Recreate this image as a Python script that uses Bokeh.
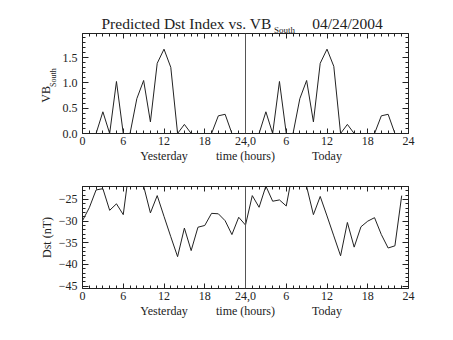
from bokeh.plotting import figure
from bokeh.models import FixedTicker, LinearAxis, Span, Range1d
from bokeh.layouts import column
from bokeh.embed import file_html
from bokeh.resources import INLINE

# ---------------- data ----------------
vb_yesterday = [0, 0, 0, 0.43, 0, 1.03, 0, 0, 0.69, 1.05, 0.23, 1.39,
                1.67, 1.31, 0, 0.18, 0, 0, 0, 0, 0.35, 0.38, 0, 0]
vb_today = [0, 0, 0, 0.43, 0, 1.03, 0, 0, 0.69, 1.05, 0.23, 1.39,
            1.67, 1.33, 0, 0.18, 0, 0, 0, 0, 0.35, 0.38, 0, 0, 0]
dst_yesterday = [-29.9, -26.9, -22.8, -22.5, -27.5, -26.0, -28.5, -16.5,
                 -18.0, -21.9, -28.1, -24.1, -28.9, -33.6, -38.2, -31.6,
                 -36.8, -31.4, -31.0, -28.2, -28.3, -29.9, -33.1, -29.1]
dst_today = [-30.9, -24.1, -26.8, -21.9, -25.4, -25.1, -26.5, -18.2,
             -17.0, -22.0, -28.5, -24.3, -28.8, -33.4, -38.0, -30.3,
             -36.0, -31.3, -30.0, -29.2, -33.1, -36.2, -35.7, -24.1]

x_ticks = [0, 6, 12, 18, 24, 30, 36, 42, 48]
x_tick_labels = ["0", "6", "12", "18", "24,0", "6", "12", "18", "24"]
vb_ticks = [0.0, 0.5, 1.0, 1.5]
vb_tick_labels = ["0.0", "0.5", "1.0", "1.5"]
dst_ticks = [-45, -40, -35, -30, -25]
dst_tick_labels = ["\u221245", "\u221240", "\u221235", "\u221230", "\u221225"]

title_main = "Predicted Dst Index vs. VB"
title_sub = "South"
title_date = "04/24/2004"
vb_label = "VB"
dst_label = "Dst (nT)"
day_labels = ["Yesterday", "time (hours)", "Today"]
day_label_x = [12, 24, 36]

# ---------------- layout ----------------
W = 453
LEFT, RIGHT = 82, 408
TOP1, FH = 33, 102
H1 = 165
TOP2 = 186
H2 = 340 - H1
VB_MIN, VB_MAX = 0.0, 1.98
DST_MIN, DST_MAX = -45.55, -22.0
FONT = "Liberation Serif"
INK = "#222222"

vb_x = list(range(len(vb_yesterday))) + [24 + h for h in range(len(vb_today))]
vb_v = vb_yesterday + vb_today
dst_x = list(range(len(dst_yesterday))) + [24 + h for h in range(len(dst_today))]
dst_v = dst_yesterday + dst_today


def hx(px):
    """page pixel x -> hours"""
    return (px - LEFT) * 48.0 / (RIGHT - LEFT)


def vb_y(py):
    return VB_MAX - (py - TOP1) * (VB_MAX - VB_MIN) / FH


def make_fig(height, top_border, ymin, ymax):
    p = figure(width=W, height=height, output_backend="svg", toolbar_location=None,
               x_range=Range1d(0, 48), y_range=Range1d(ymin, ymax),
               min_border_left=LEFT, min_border_right=W - RIGHT,
               min_border_top=top_border, min_border_bottom=height - top_border - FH)
    p.xgrid.visible = False
    p.ygrid.visible = False
    p.outline_line_color = None
    p.background_fill_color = "white"
    p.border_fill_color = "white"
    return p


def style_axis(ax, ticks, minor, labels, tick_in, minor_in, show):
    ax.ticker = FixedTicker(ticks=ticks, minor_ticks=minor)
    ax.major_label_overrides = {t: l for t, l in zip(ticks, labels)}
    ax.major_tick_in = tick_in
    ax.major_tick_out = 0
    ax.minor_tick_in = minor_in
    ax.minor_tick_out = 0
    ax.axis_line_color = INK
    ax.major_tick_line_color = INK
    ax.minor_tick_line_color = INK
    ax.major_label_text_font = FONT
    ax.major_label_text_font_size = "12px" if show else "0px"
    ax.major_label_text_color = INK
    ax.major_label_standoff = 3 if show else 0
    if not show:
        ax.major_label_text_alpha = 0


def text_axis(p, place, ticks, labels, size, standoff, orientation="horizontal"):
    """An axis with no line and no ticks, used only to write texts outside the frame."""
    ax = LinearAxis(ticker=FixedTicker(ticks=ticks),
                    major_label_overrides={t: l for t, l in zip(ticks, labels)})
    ax.axis_line_color = None
    ax.major_tick_line_color = None
    ax.minor_tick_line_color = None
    ax.major_tick_in = 0
    ax.major_tick_out = 0
    ax.minor_tick_in = 0
    ax.minor_tick_out = 0
    ax.major_label_standoff = standoff
    ax.major_label_orientation = orientation
    ax.major_label_text_font = FONT
    ax.major_label_text_font_size = size
    ax.major_label_text_color = INK
    p.add_layout(ax, place)
    return ax


def axes_box(p, yticks, yminor, ylabels):
    xminor = list(range(49))
    style_axis(p.xaxis[0], x_ticks, xminor, x_tick_labels, 5, 3, True)
    style_axis(p.yaxis[0], yticks, yminor, ylabels, 6, 3, True)
    p.yaxis[0].major_label_standoff = 5
    top = LinearAxis()
    style_axis(top, x_ticks, xminor, x_tick_labels, 5, 3, False)
    p.add_layout(top, "above")
    right = LinearAxis()
    style_axis(right, yticks, yminor, ylabels, 6, 3, False)
    p.add_layout(right, "right")
    p.add_layout(Span(location=24, dimension="height", line_color="#555555", line_width=1))
    text_axis(p, "below", day_label_x, day_labels, "12px", 1)


# ---------------- upper panel ----------------
p1 = make_fig(H1, TOP1, VB_MIN, VB_MAX)
vb_minor = [round(0.1 * i, 1) for i in range(20)]
axes_box(p1, vb_ticks, vb_minor, vb_tick_labels)
p1.line(vb_x, vb_v, line_color=INK, line_width=1)

# title: subscript row first (closer to the frame), then the main row
text_axis(p1, "above", [hx(284)], [title_sub], "9px", -1)
text_axis(p1, "above", [hx(186), hx(347)], [title_main, title_date], "15.5px", -10)

# y label: VB with subscript South
text_axis(p1, "left", [vb_y(78)], [title_sub], "8px", 1, orientation="parallel")
text_axis(p1, "left", [vb_y(95)], [vb_label], "12px", -7, orientation="parallel")

# ---------------- lower panel ----------------
p2 = make_fig(H2, TOP2 - H1, DST_MIN, DST_MAX)
dst_minor = list(range(-45, -21))
axes_box(p2, dst_ticks, dst_minor, dst_tick_labels)
p2.line(dst_x, dst_v, line_color=INK, line_width=1)
p2.yaxis[0].axis_label = dst_label
p2.yaxis[0].axis_label_text_font = FONT
p2.yaxis[0].axis_label_text_font_size = "12px"
p2.yaxis[0].axis_label_text_font_style = "normal"
p2.yaxis[0].axis_label_text_color = INK
p2.yaxis[0].axis_label_standoff = 2

layout = column(p1, p2, spacing=0)
open("out.html", "w").write(file_html(layout, INLINE))
